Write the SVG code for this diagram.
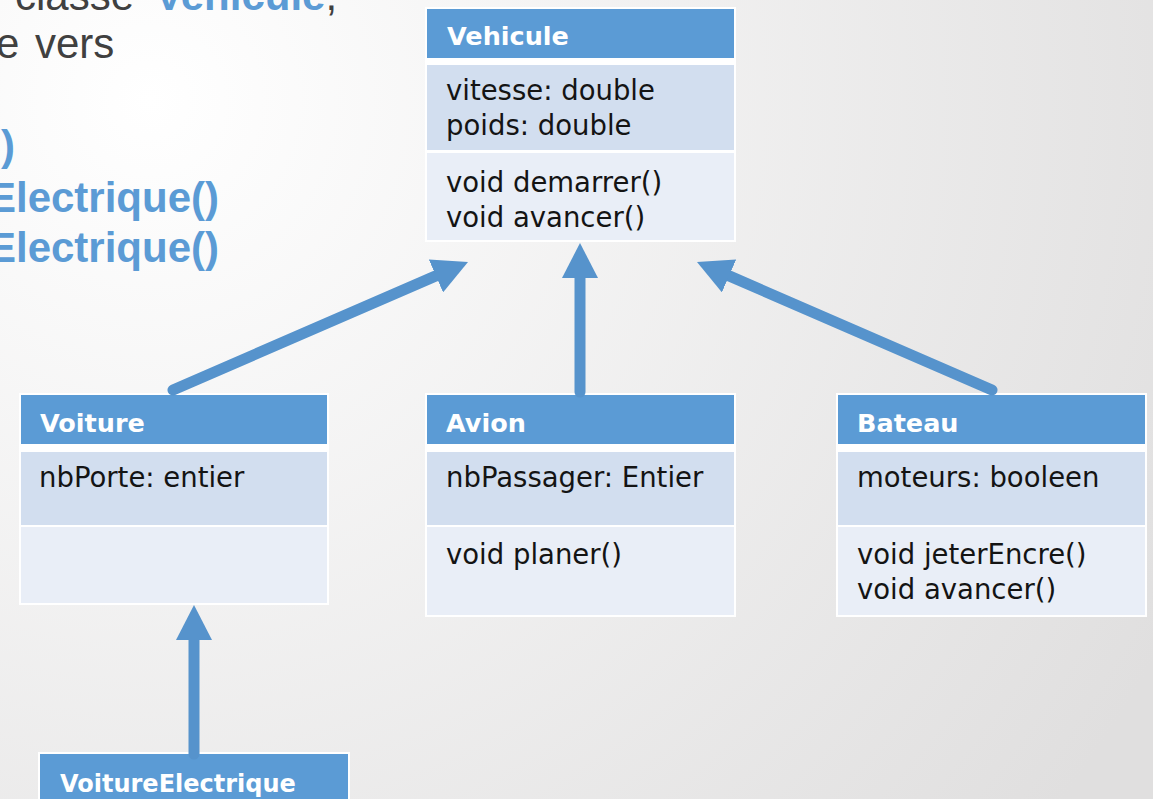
<svg xmlns="http://www.w3.org/2000/svg" width="1153" height="799" viewBox="0 0 1153 799">
  <defs>
    <radialGradient id="bg" cx="150" cy="100" r="1150" gradientUnits="userSpaceOnUse">
      <stop offset="0" stop-color="#ffffff"/>
      <stop offset="1" stop-color="#e0dfdf"/>
    </radialGradient>
    <marker id="head" markerUnits="userSpaceOnUse" markerWidth="35" markerHeight="36" viewBox="0 0 35 36" refX="0" refY="18" orient="auto">
      <path d="M0,0 L35,18 L0,36 Z" fill="#5693cc"/>
    </marker>
    <style>
      .frame { fill: #ffffff; }
      .hdr { fill: #5b9bd5; }
      .attr { fill: #d2deef; }
      .meth { fill: #e9eef7; }
      .title { font-family: "DejaVu Sans", sans-serif; font-weight: bold; font-size: 25.5px; fill: #ffffff; }
      .body { font-family: "DejaVu Sans", sans-serif; font-size: 27.5px; fill: #141414; }
      .prose { font-family: "Liberation Sans", Arial, sans-serif; font-size: 42px; fill: #404040; }
      .kw { font-weight: bold; fill: #5b9bd5; }
      .link { fill: none; stroke: #5693cc; stroke-width: 11; stroke-linecap: round; marker-end: url(#head); }
    </style>
  </defs>

  <rect width="1153" height="799" fill="url(#bg)"/>

  <!-- explanatory text, clipped by the left and top edges -->
  <g id="prose" class="prose">
    <text y="10"><tspan x="15">classe</tspan><tspan x="155" class="kw">Vehicule</tspan><tspan>,</tspan></text>
    <text y="58"><tspan x="-4">e</tspan><tspan x="35">vers</tspan></text>
    <text y="160" x="1" class="kw">)</text>
    <text y="212" x="219" text-anchor="end" class="kw">Electrique()</text>
    <text y="262" x="219" text-anchor="end" class="kw">Electrique()</text>
  </g>

  <!-- class Vehicule -->
  <g id="vehicule">
    <rect class="frame" x="425" y="7" width="311" height="235"/>
    <rect class="hdr" x="427" y="9" width="307" height="49"/>
    <rect class="attr" x="427" y="65" width="307" height="85"/>
    <rect class="meth" x="427" y="153" width="307" height="87"/>
    <text class="title" x="447" y="45">Vehicule</text>
    <text class="body" x="446" y="100">vitesse: double</text>
    <text class="body" x="446" y="135">poids: double</text>
    <text class="body" x="446" y="192">void demarrer()</text>
    <text class="body" x="446" y="227">void avancer()</text>
  </g>

  <!-- class Voiture -->
  <g id="voiture">
    <rect class="frame" x="19" y="393" width="310" height="212"/>
    <rect class="hdr" x="21" y="395" width="306" height="49"/>
    <rect class="attr" x="21" y="452" width="306" height="73"/>
    <rect class="meth" x="21" y="527" width="306" height="76"/>
    <text class="title" x="40" y="432">Voiture</text>
    <text class="body" x="39" y="487">nbPorte: entier</text>
  </g>

  <!-- class Avion -->
  <g id="avion">
    <rect class="frame" x="425" y="393" width="311" height="224"/>
    <rect class="hdr" x="427" y="395" width="307" height="49"/>
    <rect class="attr" x="427" y="452" width="307" height="73"/>
    <rect class="meth" x="427" y="527" width="307" height="88"/>
    <text class="title" x="446" y="432">Avion</text>
    <text class="body" x="446" y="487">nbPassager: Entier</text>
    <text class="body" x="446" y="564">void planer()</text>
  </g>

  <!-- class Bateau -->
  <g id="bateau">
    <rect class="frame" x="836" y="393" width="311" height="224"/>
    <rect class="hdr" x="838" y="395" width="307" height="49"/>
    <rect class="attr" x="838" y="452" width="307" height="73"/>
    <rect class="meth" x="838" y="527" width="307" height="88"/>
    <text class="title" x="857" y="432">Bateau</text>
    <text class="body" x="857" y="487">moteurs: booleen</text>
    <text class="body" x="857" y="564">void jeterEncre()</text>
    <text class="body" x="857" y="599">void avancer()</text>
  </g>

  <!-- class VoitureElectrique -->
  <g id="voiture-electrique">
    <rect class="frame" x="38" y="752" width="312" height="60"/>
    <rect class="hdr" x="40" y="754" width="308" height="60"/>
    <text class="title" x="60" y="792" style="font-size:24px">VoitureElectrique</text>
  </g>

  <!-- inheritance arrows -->
  <g id="connectors">
    <line class="link" x1="173" y1="390" x2="435.9" y2="275.9"/>
    <line class="link" x1="580" y1="392" x2="580" y2="278"/>
    <line class="link" x1="992" y1="390" x2="729.1" y2="275.9"/>
    <line class="link" x1="194" y1="754" x2="194" y2="640"/>
  </g>
</svg>
